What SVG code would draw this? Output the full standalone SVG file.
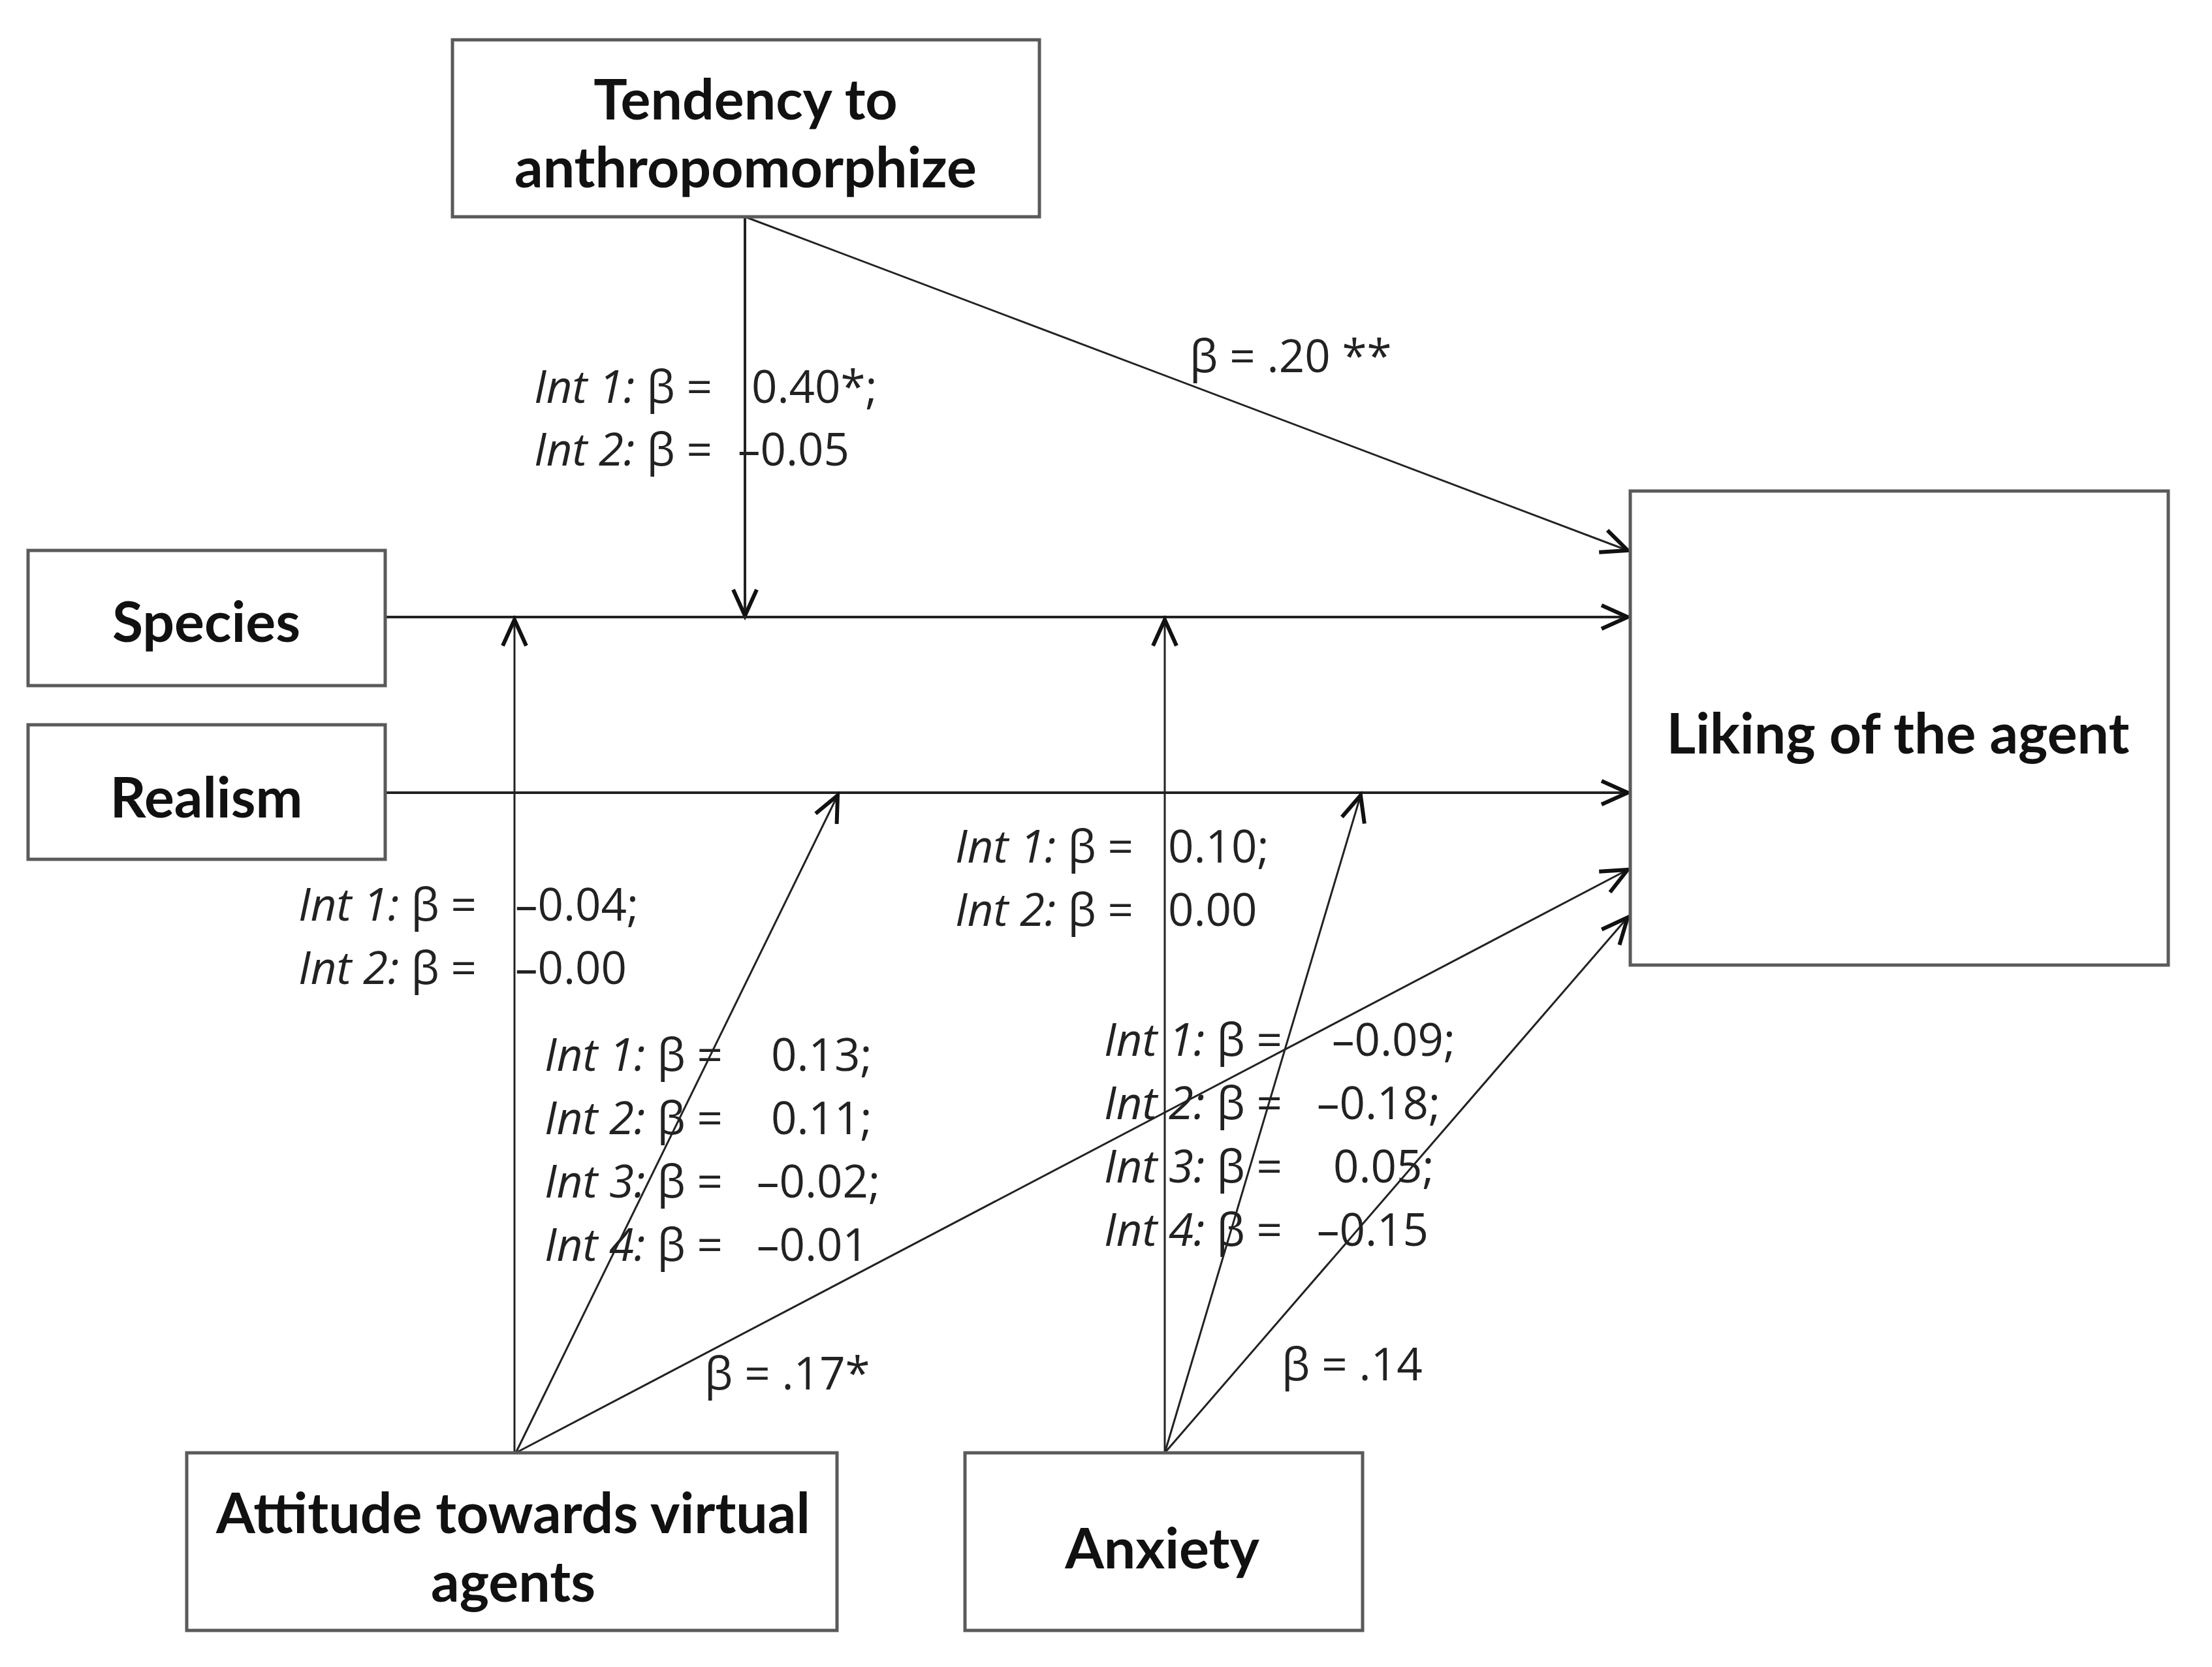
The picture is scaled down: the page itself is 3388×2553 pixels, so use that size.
<svg xmlns="http://www.w3.org/2000/svg" width="3388" height="2553" viewBox="0 0 3388 2553">
<defs>
<style>
.box{fill:#fff;stroke:#5a5a5a;stroke-width:5}
.nl{font-family:Lato,"Open Sans","Liberation Sans",sans-serif;font-weight:bold;font-size:86px;fill:#111;text-anchor:middle}
.lb{font-family:"Open Sans",Lato,"Liberation Sans",sans-serif;font-size:69px;fill:#222}
.it{font-style:italic}
.ln{stroke:#222;stroke-width:4;fill:none;marker-end:url(#ah)}
.thin{stroke-width:3}
</style>
<marker id="ah" markerUnits="userSpaceOnUse" markerWidth="60" markerHeight="60" refX="0" refY="0" viewBox="-50 -30 60 60" orient="auto" overflow="visible">
<path d="M -40 -18 L 0 0 L -40 18" fill="none" stroke="#111" stroke-width="6" stroke-linejoin="miter"/>
</marker>
</defs>
<rect width="3388" height="2553" fill="#fff"/>
<g id="connectors">
<line class="ln" x1="1141" y1="332" x2="1141" y2="943"/>
<line class="ln thin" x1="1141" y1="332" x2="2493" y2="843"/>
<line class="ln" x1="592" y1="945" x2="2493" y2="945"/>
<line class="ln" x1="592" y1="1214" x2="2493" y2="1214"/>
<line class="ln thin" x1="788" y1="2225" x2="788" y2="949"/>
<line class="ln thin" x1="790" y1="2225" x2="1283" y2="1218"/>
<line class="ln thin" x1="790" y1="2225" x2="2493" y2="1332"/>
<line class="ln thin" x1="1784" y1="2225" x2="1784" y2="949"/>
<line class="ln thin" x1="1784" y1="2225" x2="2084" y2="1218"/>
<line class="ln thin" x1="1784" y1="2225" x2="2493" y2="1405"/>
</g>
<g id="tendency">
<rect class="box" x="693" y="61" width="899" height="271"/>
<text class="nl" x="1142" y="183">Tendency to</text>
<text class="nl" x="1142" y="287">anthropomorphize</text>
</g>
<g id="species">
<rect class="box" x="43" y="843" width="547" height="207"/>
<text class="nl" x="316" y="983">Species</text>
</g>
<g id="realism">
<rect class="box" x="43" y="1110" width="547" height="206"/>
<text class="nl" x="316" y="1252">Realism</text>
</g>
<g id="liking">
<rect class="box" x="2497" y="752" width="824" height="726"/>
<text class="nl" x="2907" y="1154">Liking of the agent</text>
</g>
<g id="attitude">
<rect class="box" x="286" y="2225" width="996" height="272"/>
<text class="nl" x="786" y="2348">Attitude towards virtual</text>
<text class="nl" x="786" y="2453">agents</text>
</g>
<g id="anxiety">
<rect class="box" x="1478" y="2225" width="609" height="272"/>
<text class="nl" x="1780" y="2402">Anxiety</text>
</g>
<g id="labels">
<text class="lb" x="818" y="617"><tspan class="it">Int 1:</tspan> β =</text>
<text class="lb" x="1151" y="617">0.40*;</text>
<text class="lb" x="818" y="713"><tspan class="it">Int 2:</tspan> β =</text>
<text class="lb" x="1130" y="713">–0.05</text>
<text class="lb" x="1822" y="570">β = .20 **</text>
<text class="lb" x="457" y="1410"><tspan class="it">Int 1:</tspan> β =</text>
<text class="lb" x="789" y="1410">–0.04;</text>
<text class="lb" x="457" y="1507"><tspan class="it">Int 2:</tspan> β =</text>
<text class="lb" x="789" y="1507">–0.00</text>
<text class="lb" x="1463" y="1321"><tspan class="it">Int 1:</tspan> β =</text>
<text class="lb" x="1789" y="1321">0.10;</text>
<text class="lb" x="1463" y="1418"><tspan class="it">Int 2:</tspan> β =</text>
<text class="lb" x="1789" y="1418">0.00</text>
<text class="lb" x="834" y="1640"><tspan class="it">Int 1:</tspan> β =</text>
<text class="lb" x="1181" y="1640">0.13;</text>
<text class="lb" x="834" y="1737"><tspan class="it">Int 2:</tspan> β =</text>
<text class="lb" x="1181" y="1737">0.11;</text>
<text class="lb" x="834" y="1834"><tspan class="it">Int 3:</tspan> β =</text>
<text class="lb" x="1159" y="1834">–0.02;</text>
<text class="lb" x="834" y="1931"><tspan class="it">Int 4:</tspan> β =</text>
<text class="lb" x="1159" y="1931">–0.01</text>
<text class="lb" x="1691" y="1617"><tspan class="it">Int 1:</tspan> β =</text>
<text class="lb" x="2040" y="1617">–0.09;</text>
<text class="lb" x="1691" y="1714"><tspan class="it">Int 2:</tspan> β =</text>
<text class="lb" x="2017" y="1714">–0.18;</text>
<text class="lb" x="1691" y="1811"><tspan class="it">Int 3:</tspan> β =</text>
<text class="lb" x="2042" y="1811">0.05;</text>
<text class="lb" x="1691" y="1908"><tspan class="it">Int 4:</tspan> β =</text>
<text class="lb" x="2017" y="1908">–0.15</text>
<text class="lb" x="1079" y="2128">β = .17*</text>
<text class="lb" x="1963" y="2114">β = .14</text>
</g>
</svg>
